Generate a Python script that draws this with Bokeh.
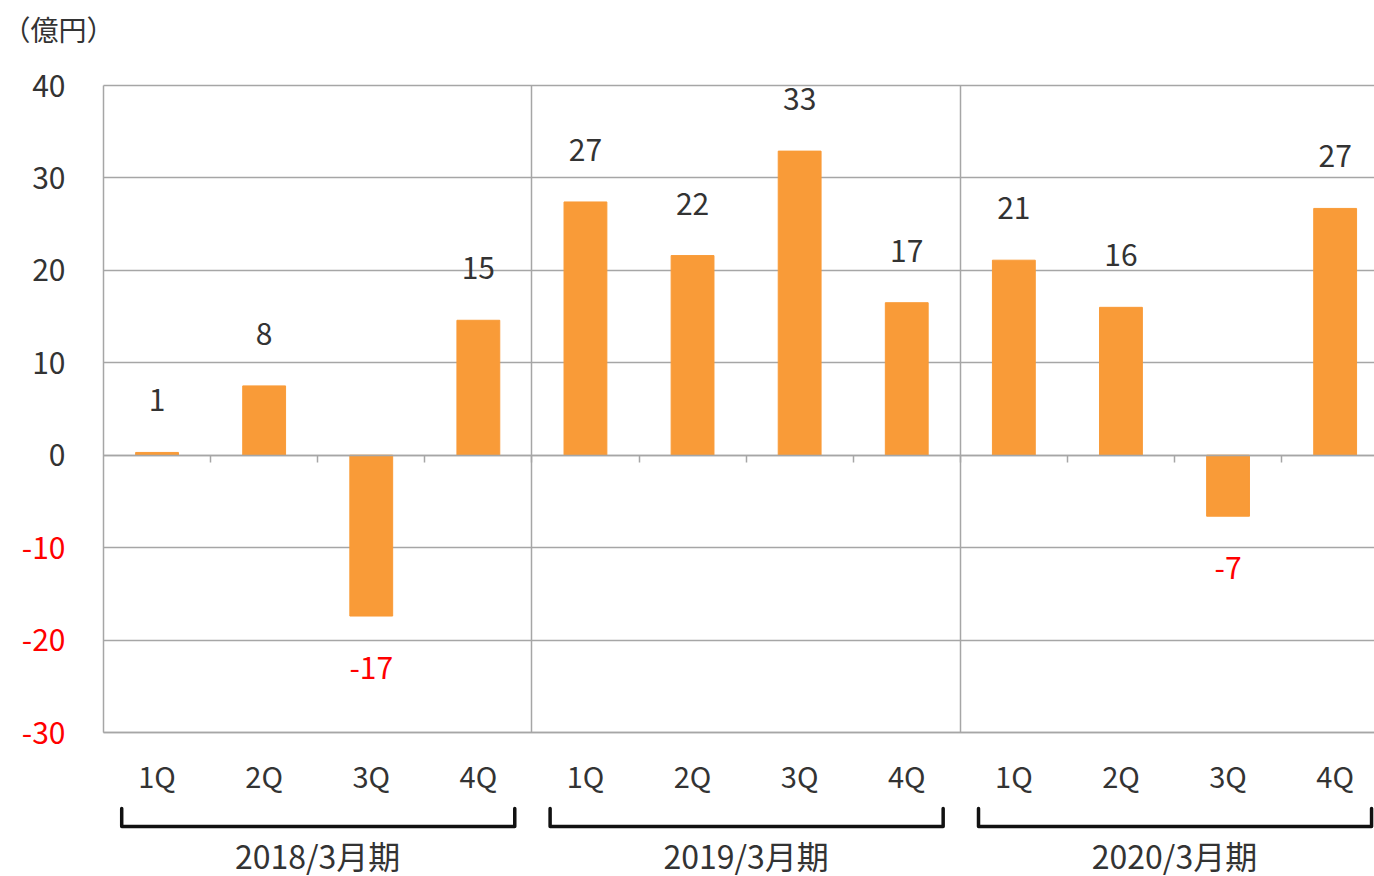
from bokeh.plotting import figure
from bokeh.models import ColumnDataSource, Range1d, FixedTicker, LinearAxis
from bokeh.core.properties import value
from bokeh.embed import file_html
from bokeh.resources import INLINE

# ---- data ----
quarters = ["1Q", "2Q", "3Q", "4Q", "1Q", "2Q", "3Q", "4Q", "1Q", "2Q", "3Q", "4Q"]
periods = ["2018/3月期", "2019/3月期", "2020/3月期"]
profit = [0.3, 7.5, -17.4, 14.6, 27.4, 21.6, 32.9, 16.5, 21.1, 16.0, -6.6, 26.7]
profit_labels = ["1", "8", "-17", "15", "27", "22", "33", "17", "21", "16", "-7", "27"]
y_ticks = [40, 30, 20, 10, 0, -10, -20, -30]
unit_label = "（億円）"

FONT = "Noto Sans CJK JP"
TEXT = "#333333"
RED = "#FF0000"
GRID = "#A6A6A6"
BAR = "#F99B38"

W, H = 1374, 876
# plot-area geometry (pixels)
L, T, B = 103, 85, 732
n = len(profit)
px_x = 107.1
ymin, ymax = min(y_ticks), max(y_ticks)
px_y = (B - T) / (ymax - ymin)

xs = [i + 0.5 for i in range(n)]
lab_off = 52 / px_y
label_y = [v + lab_off if v >= 0 else v - lab_off for v in profit]
label_col = [TEXT if v >= 0 else RED for v in profit]
src = ColumnDataSource(dict(x=xs, top=profit, ly=label_y, lt=profit_labels, lc=label_col))

p = figure(width=W, height=H, output_backend="svg", toolbar_location=None,
           x_range=Range1d(-L / px_x, (W - L) / px_x),
           y_range=Range1d(ymin - (H - B) / px_y, ymax + T / px_y),
           min_border_left=0, min_border_right=0, min_border_top=0, min_border_bottom=0)
p.outline_line_color = None
p.background_fill_color = "white"
p.border_fill_color = "white"

# ---- grids ----
yg = p.ygrid[0]
yg.ticker = FixedTicker(ticks=y_ticks)
yg.bounds = (ymin - 1, ymax + 1)
yg.grid_line_color = GRID
yg.grid_line_width = 1.5
xg = p.xgrid[0]
xg.ticker = FixedTicker(ticks=[4 * (g + 1) for g in range(len(periods) - 1)])
xg.bounds = (0, n)
xg.grid_line_color = GRID
xg.grid_line_width = 1.5
try:
    yg.cross_bounds = (0, n)
    xg.cross_bounds = (ymin, ymax)
except AttributeError:
    yg.visible = False
    xg.visible = False
    p.segment(x0=[0] * len(y_ticks), y0=y_ticks, x1=[n] * len(y_ticks), y1=y_ticks,
              line_color=GRID, line_width=1.5)
    seps = [4.0 * (g + 1) for g in range(len(periods) - 1)]
    p.segment(x0=seps, y0=[ymin] * len(seps), x1=seps, y1=[ymax] * len(seps),
              line_color=GRID, line_width=1.5)

# ---- bars ----
p.vbar(x="x", top="top", bottom=0, width=0.4, source=src, fill_color=BAR, line_color=BAR)

# data labels
p.text(x="x", y="ly", text="lt", text_color="lc", source=src, text_align="center",
       text_baseline="middle", text_font=value(FONT), text_font_size="30px")

def style_axis(ax, size, color):
    ax.major_tick_line_color = None
    ax.minor_tick_line_color = None
    ax.major_tick_out = 0
    ax.major_tick_in = 0
    ax.major_label_text_font = FONT
    ax.major_label_text_font_size = size
    ax.major_label_text_color = color

# ---- y axes (positive labels dark, negative labels red) ----
pos_ticks = [t for t in y_ticks if t >= 0]
neg_ticks = [t for t in y_ticks if t < 0]
ya = p.yaxis[0]
ya.fixed_location = 0
ya.bounds = (ymin, ymax)
ya.ticker = FixedTicker(ticks=pos_ticks)
style_axis(ya, "30px", TEXT)
ya.axis_line_color = GRID
ya.axis_line_width = 1.5
ya.major_label_standoff = 38

yneg = LinearAxis(fixed_location=0, bounds=(ymin, ymax), ticker=FixedTicker(ticks=neg_ticks),
                  major_label_overrides={t: str(t) for t in neg_ticks})
style_axis(yneg, "30px", RED)
yneg.axis_line_color = None
yneg.major_label_standoff = 38
p.add_layout(yneg, "left")

# ---- x axes ----
xa = p.xaxis[0]
xa.fixed_location = ymin
xa.bounds = (0, n)
xa.ticker = FixedTicker(ticks=xs)
xa.major_label_overrides = {x: q for x, q in zip(xs, quarters)}
style_axis(xa, "29px", TEXT)
xa.axis_line_color = GRID
xa.axis_line_width = 1.5
xa.major_label_standoff = 21

# zero line with small ticks at category boundaries
bounds = [float(k) for k in range(1, n)]
xzero = LinearAxis(fixed_location=0, bounds=(0, n), ticker=FixedTicker(ticks=bounds),
                   major_label_overrides={b: "" for b in bounds})
xzero.axis_line_color = GRID
xzero.axis_line_width = 1.5
xzero.major_tick_line_color = GRID
xzero.major_tick_line_width = 1.5
xzero.major_tick_in = 0
xzero.major_tick_out = 7
xzero.minor_tick_line_color = None
p.add_layout(xzero, "below")

# period labels
centers = [4 * g + 2.0 for g in range(len(periods))]
xper = LinearAxis(fixed_location=ymin, ticker=FixedTicker(ticks=centers),
                  major_label_overrides={c: s for c, s in zip(centers, periods)})
style_axis(xper, "32px", TEXT)
xper.axis_line_color = None
xper.major_label_standoff = 99
p.add_layout(xper, "below")

# ---- period brackets ----
y_low = ymin - (826 - B) / px_y
y_high = ymin - (808 - B) / px_y
bxs, bys = [], []
for g in range(len(periods)):
    a, b = 4 * g + 0.17, 4 * g + 3.84
    bxs.append([a, a, b, b])
    bys.append([y_high, y_low, y_low, y_high])
p.multi_line(xs=bxs, ys=bys, line_color="#111111", line_width=3.5, line_join="round",
             line_cap="round")

# ---- unit label ----
p.text(x=[(2 - L) / px_x], y=[ymax + (T - 28) / px_y], text=[unit_label],
       text_align="left", text_baseline="middle", text_color=TEXT,
       text_font=value(FONT), text_font_size="28px")

open("out.html", "w").write(file_html(p, INLINE))
